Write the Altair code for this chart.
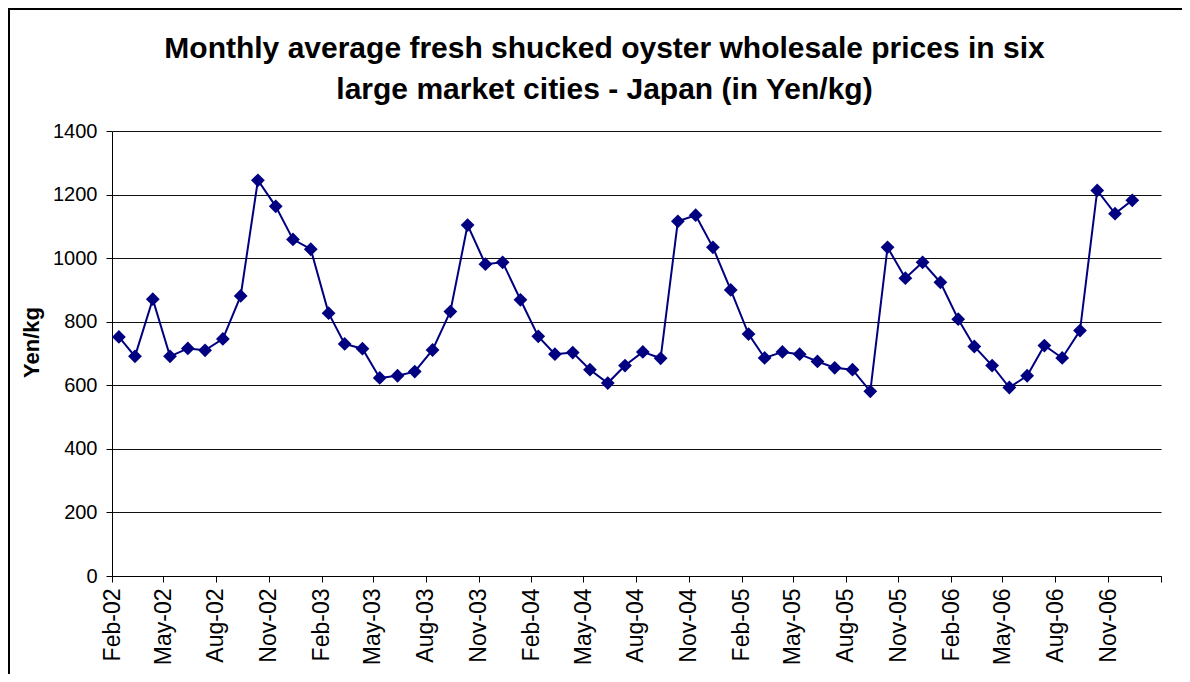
import altair as alt
import pandas as pd

months = [
    "2002-02", "2002-03", "2002-04", "2002-05", "2002-06", "2002-07", "2002-08", "2002-09", "2002-10", "2002-11", "2002-12",
    "2003-01", "2003-02", "2003-03", "2003-04", "2003-05", "2003-06", "2003-07", "2003-08", "2003-09", "2003-10", "2003-11", "2003-12",
    "2004-01", "2004-02", "2004-03", "2004-04", "2004-05", "2004-06", "2004-07", "2004-08", "2004-09", "2004-10", "2004-11", "2004-12",
    "2005-01", "2005-02", "2005-03", "2005-04", "2005-05", "2005-06", "2005-07", "2005-08", "2005-09", "2005-10", "2005-11", "2005-12",
    "2006-01", "2006-02", "2006-03", "2006-04", "2006-05", "2006-06", "2006-07", "2006-08", "2006-09", "2006-10", "2006-11", "2006-12",
]
prices = [
    752, 691, 871, 691, 716, 710, 746, 881, 1245, 1163, 1059,
    1028, 827, 730, 715, 623, 630, 643, 711, 832, 1104, 981, 987,
    869, 754, 698, 703, 649, 607, 662, 705, 685, 1116, 1135, 1034,
    900, 761, 686, 705, 698, 675, 655, 649, 581, 1034, 937, 987,
    924, 808, 722, 662, 593, 630, 725, 686, 772, 1213, 1140, 1182,
]
tick_months = [
    "2002-02", "2002-05", "2002-08", "2002-11", "2003-02", "2003-05", "2003-08", "2003-11",
    "2004-02", "2004-05", "2004-08", "2004-11", "2005-02", "2005-05", "2005-08", "2005-11",
    "2006-02", "2006-05", "2006-08", "2006-11", "2007-02",
]
y_ticks = [0, 200, 400, 600, 800, 1000, 1200, 1400]

def dt(ym, day):
    y, m = ym.split("-")
    return alt.DateTime(year=int(y), month=int(m), date=day)

df = pd.DataFrame({
    "date": [m + "-13T00:00:00" for m in months],
    "price": prices,
})

FONT = "Liberation Sans"
NAVY = "#000080"

x_enc = alt.X(
    "date:T",
    scale=alt.Scale(domain=[dt("2002-02", 1), dt("2007-02", 1)]),
    axis=alt.Axis(
        values=[dt(t, 1) for t in tick_months],
        labelExpr="year(datum.value) == 2007 ? '' : timeFormat(datum.value, '%b-%y')",
        labelAngle=-90,
        labelFontSize=23,
        labelFont=FONT,
        labelColor="#000",
        labelPadding=6,
        tickSize=6,
        tickColor="#000",
        domainColor="#000",
        grid=False,
        title=None,
        labelOverlap=False,
    ),
)
y_enc = alt.Y(
    "price:Q",
    scale=alt.Scale(domain=[0, 1400], nice=False),
    axis=alt.Axis(
        values=y_ticks,
        format="d",
        labelFontSize=20,
        labelFont=FONT,
        labelColor="#000",
        labelPadding=9,
        tickSize=6,
        tickColor="#000",
        domainColor="#000",
        grid=True,
        gridColor="#111",
        title="Yen/kg",
        titleFont=FONT,
        titleFontSize=22,
        titleFontWeight="bold",
        titleColor="#000",
        titleX=-81,
        titleY=211,
        titleAlign="center",
        titleBaseline="middle",
        titleAngle=270,
    ),
)

base = alt.Chart(df)
line = base.mark_line(color=NAVY, strokeWidth=2).encode(x=x_enc, y=y_enc)
pts = base.mark_point(shape="diamond", filled=True, color=NAVY, size=190, opacity=1).encode(x=x_enc, y=y_enc)
frame = base.mark_rect(fill=None, stroke="#000", strokeWidth=2, clip=False).encode(
    x=alt.value(-103), x2=alt.value(1200), y=alt.value(-122), y2=alt.value(700)
)

chart = alt.layer(frame, line, pts).properties(
    width=1049,
    height=445,
    autosize=alt.AutoSizeParams(type="none"),
    padding={"left": 104, "top": 123, "right": 21, "bottom": 98},
    title=alt.TitleParams(
        text=["Monthly average fresh shucked oyster wholesale prices in six",
              "large market cities - Japan (in Yen/kg)"],
        font=FONT,
        fontSize=30,
        fontWeight="bold",
        color="#000",
        lineHeight=41,
        anchor="middle",
        dx=-32,
        dy=119,
        offset=22,
    ),
).configure_view(stroke=None)

chart.save("out.html", embed_options={"renderer": "svg", "actions": False})
